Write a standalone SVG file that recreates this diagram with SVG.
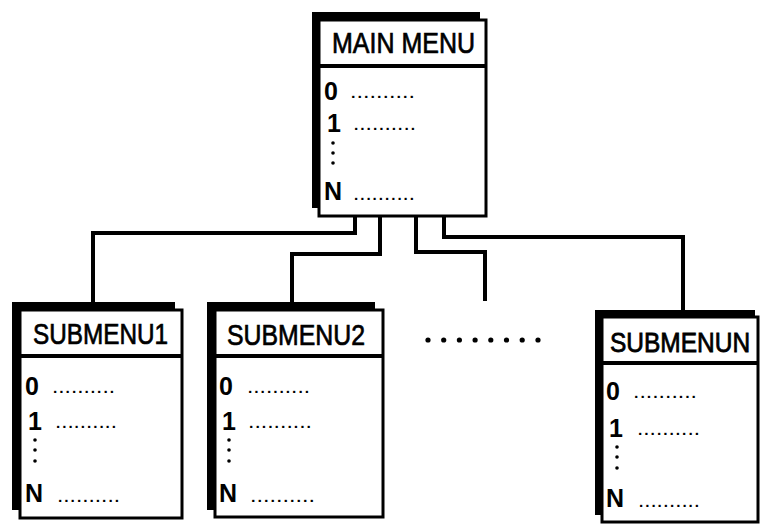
<svg xmlns="http://www.w3.org/2000/svg" width="760" height="524" viewBox="0 0 760 524">
<style>
.shadow{fill:#000}
.box{fill:#fff;stroke:#000;stroke-width:3}
.sep{stroke:#000;stroke-width:4}
.title{font-family:"Liberation Sans",Arial,sans-serif;font-size:29px;fill:#000;stroke:#000;stroke-width:0.7}
.row{font-family:"Liberation Sans",Arial,sans-serif;font-size:25px;font-weight:bold;fill:#000}
.dots{font-family:"Liberation Sans",Arial,sans-serif;font-size:20px;fill:#000}
.vd{fill:#000}
.conn{fill:none;stroke:#000;stroke-width:4;stroke-linejoin:miter}
</style>
<rect width="760" height="524" fill="#fff"/>
<g id="connectors">
<path class="conn" d="M355,214 V233 H93 V304"/>
<path class="conn" d="M380,214 V254 H292 V304"/>
<path class="conn" d="M416,214 V252 H485 V301"/>
<path class="conn" d="M444,214 V237 H683 V311"/>
</g>
<g id="main-menu">
<rect class="shadow" x="312" y="12" width="168" height="196"/>
<rect class="box" x="319" y="20" width="167" height="196"/>
<line class="sep" x1="319" y1="66" x2="486" y2="66"/>
<text class="title" x="332" y="53" textLength="143" lengthAdjust="spacingAndGlyphs">MAIN MENU</text>
<text class="row" x="324" y="100">0</text>
<text class="dots" x="350" y="98" textLength="65" lengthAdjust="spacingAndGlyphs">..........</text>
<text class="row" x="327" y="132">1</text>
<text class="dots" x="353" y="130" textLength="63" lengthAdjust="spacingAndGlyphs">..........</text>
<circle class="vd" cx="333" cy="143" r="1.8"/>
<circle class="vd" cx="333" cy="153" r="1.8"/>
<circle class="vd" cx="333" cy="163" r="1.8"/>
<text class="row" x="324" y="200">N</text>
<text class="dots" x="353" y="200" textLength="62" lengthAdjust="spacingAndGlyphs">..........</text>
</g>
<g id="submenu1">
<rect class="shadow" x="12" y="302" width="163" height="208"/>
<rect class="box" x="20" y="310" width="162" height="208"/>
<line class="sep" x1="20" y1="356" x2="182" y2="356"/>
<text class="title" x="33" y="344" textLength="135" lengthAdjust="spacingAndGlyphs">SUBMENU1</text>
<text class="row" x="25" y="395">0</text>
<text class="dots" x="52" y="393" textLength="63" lengthAdjust="spacingAndGlyphs">..........</text>
<text class="row" x="28" y="430">1</text>
<text class="dots" x="55" y="428" textLength="62" lengthAdjust="spacingAndGlyphs">..........</text>
<circle class="vd" cx="35" cy="440" r="1.8"/>
<circle class="vd" cx="35" cy="450" r="1.8"/>
<circle class="vd" cx="35" cy="461" r="1.8"/>
<text class="row" x="25" y="502">N</text>
<text class="dots" x="57" y="502" textLength="63" lengthAdjust="spacingAndGlyphs">..........</text>
</g>
<g id="submenu2">
<rect class="shadow" x="207" y="302" width="168" height="208"/>
<rect class="box" x="215" y="310" width="168" height="207"/>
<line class="sep" x1="215" y1="356" x2="383" y2="356"/>
<text class="title" x="227" y="345" textLength="138" lengthAdjust="spacingAndGlyphs">SUBMENU2</text>
<text class="row" x="219" y="395">0</text>
<text class="dots" x="247" y="393" textLength="63" lengthAdjust="spacingAndGlyphs">..........</text>
<text class="row" x="222" y="430">1</text>
<text class="dots" x="248" y="428" textLength="64" lengthAdjust="spacingAndGlyphs">..........</text>
<circle class="vd" cx="229" cy="440" r="1.8"/>
<circle class="vd" cx="229" cy="450" r="1.8"/>
<circle class="vd" cx="229" cy="461" r="1.8"/>
<text class="row" x="219" y="502">N</text>
<text class="dots" x="250" y="502" textLength="65" lengthAdjust="spacingAndGlyphs">..........</text>
</g>
<g id="ellipsis">
<circle class="vd" cx="428" cy="340" r="2.6"/>
<circle class="vd" cx="443.7" cy="340" r="2.6"/>
<circle class="vd" cx="459.4" cy="340" r="2.6"/>
<circle class="vd" cx="475.1" cy="340" r="2.6"/>
<circle class="vd" cx="490.8" cy="340" r="2.6"/>
<circle class="vd" cx="506.5" cy="340" r="2.6"/>
<circle class="vd" cx="522.2" cy="340" r="2.6"/>
<circle class="vd" cx="538" cy="340" r="2.6"/>
</g>
<g id="submenuN">
<rect class="shadow" x="595" y="310" width="160" height="205"/>
<rect class="box" x="602" y="317" width="156" height="205"/>
<line class="sep" x1="602" y1="363" x2="758" y2="363"/>
<text class="title" style="font-size:24.5px" transform="translate(610,352) scale(1,1.15)" x="0" y="0">SUBMENUN</text>
<text class="row" x="606" y="400">0</text>
<text class="dots" x="633" y="398" textLength="64" lengthAdjust="spacingAndGlyphs">..........</text>
<text class="row" x="609" y="437">1</text>
<text class="dots" x="637" y="435" textLength="63" lengthAdjust="spacingAndGlyphs">..........</text>
<circle class="vd" cx="617" cy="447" r="1.8"/>
<circle class="vd" cx="617" cy="457" r="1.8"/>
<circle class="vd" cx="617" cy="468" r="1.8"/>
<text class="row" x="606" y="507">N</text>
<text class="dots" x="638" y="507" textLength="62" lengthAdjust="spacingAndGlyphs">..........</text>
</g>
</svg>
